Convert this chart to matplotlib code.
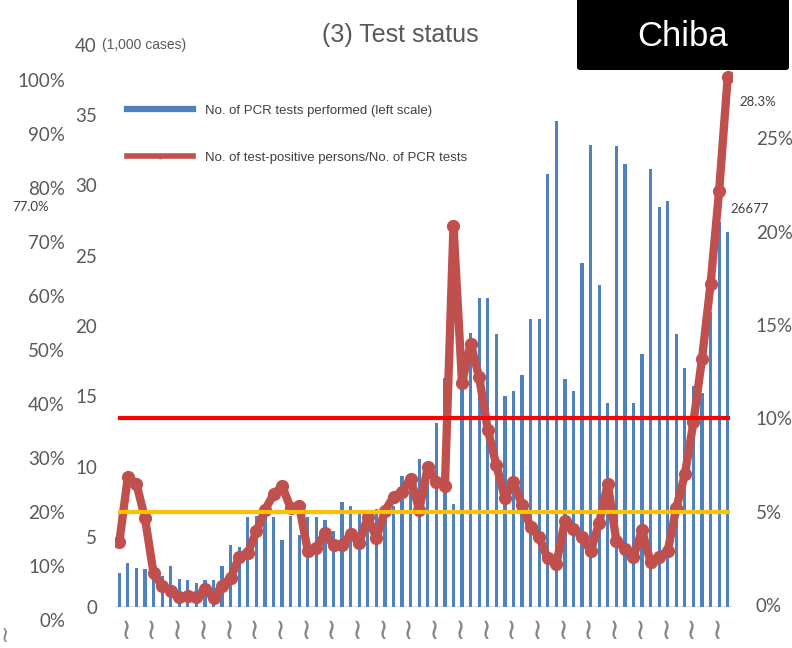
import numpy as np
import matplotlib
matplotlib.use('Agg')
import matplotlib.pyplot as plt
from matplotlib.lines import Line2D
from matplotlib.patches import FancyBboxPatch

# weekly PCR tests, in 1,000 cases (left scale)
tests = [2.4, 3.1, 2.8, 2.7, 2.2, 2.2, 2.9, 2.0, 1.9, 1.7, 1.9, 1.9,
         2.9, 4.4, 4.3, 6.4, 6.5, 6.8, 6.4, 4.75, 6.5, 5.1, 6.4, 6.4,
         6.2, 5.4, 7.5, 7.2, 6.6, 6.8, 7.0, 6.7, 7.2, 9.3, 9.0, 10.5,
         10.1, 13.1, 16.3, 7.3, 16.0, 19.5, 22.0, 22.0, 19.4, 15.0, 15.4, 16.5,
         20.5, 20.5, 30.8, 34.6, 16.2, 15.4, 24.5, 32.9, 22.9, 14.5, 32.8, 31.5,
         14.5, 18.0, 31.2, 28.5, 28.9, 19.4, 17.0, 15.7, 15.2, 21.0, 27.4, 26.677]

# positive persons / PCR tests, % (right scale)
positive_rate = [3.37, 6.87, 6.5, 4.65, 1.7, 1.05, 0.75, 0.43, 0.48, 0.43, 0.84, 0.39,
                 1.05, 1.45, 2.6, 2.8, 3.95, 5.1, 5.93, 6.38, 5.2, 5.3, 2.9, 3.05,
                 3.85, 3.2, 3.2, 3.8, 3.35, 4.7, 3.6, 5.05, 5.8, 6.07, 6.78, 5.1,
                 7.4, 6.6, 6.4, 20.3, 11.9, 14.0, 12.2, 9.4, 7.5, 5.75, 6.6, 5.35,
                 4.2, 3.64, 2.5, 2.2, 4.5, 4.1, 3.64, 2.9, 4.4, 6.5, 3.46, 3.0,
                 2.6, 4.0, 2.3, 2.6, 2.9, 5.2, 7.0, 9.8, 13.2, 17.2, 22.2, 28.3]

left_ticks = [0, 5, 10, 15, 20, 25, 30, 35, 40]
right_ticks = [0, 5, 10, 15, 20, 25]
old_ticks = [0, 10, 20, 30, 40, 50, 60, 70, 80, 90, 100]
red_level = 10
orange_level = 5

x = np.arange(len(tests))
gray = '#595959'
wave_color = '#8a8580'
tick_font = 'Lato'

fig = plt.figure(figsize=(7.92, 6.48), dpi=100)
ax1 = fig.add_axes([115/792, 41/648, 617/792, 562/648])
ax2 = ax1.twinx()

ax1.bar(x, tests, width=0.38, color='#4F81BD', zorder=2)
ax1.axhline(0, color='#d9d9d9', lw=2, zorder=1)
ax1.set_xlim(-0.5, len(tests) - 0.5)
ax1.set_ylim(0, 40)
ax1.set_yticks(left_ticks)
ax1.set_yticklabels([str(t) for t in left_ticks], fontsize=13.5, color=gray, family=tick_font)
ax1.tick_params(axis='y', length=0, pad=13)

# wavy date placeholders under the bars
wave_pos = np.arange(0, len(tests), 3) + 0.8
ax1.set_xticks(wave_pos)
ax1.set_xticklabels(['≀'] * len(wave_pos), fontsize=21, color=wave_color, family='DejaVu Sans')
ax1.tick_params(axis='x', length=0, pad=7)

ax2.plot(x, positive_rate, color='#C0504D', lw=6, marker='o', ms=8.5,
         solid_capstyle='round', solid_joinstyle='round', zorder=3)
ax2.hlines(red_level, -0.1, len(tests) - 0.7, color='#FF0000', lw=3, zorder=4)
ax2.hlines(orange_level, -0.1, len(tests) - 0.7, color='#FFC000', lw=3, zorder=4)
ax2.set_ylim(-0.1, 30)
ax2.set_yticks(right_ticks)
ax2.set_yticklabels([f'{t}%' for t in right_ticks], fontsize=13.5, color=gray, family=tick_font)
ax2.tick_params(axis='y', length=0, pad=17)

for a in (ax1, ax2):
    for s in a.spines.values():
        s.set_visible(False)
ax2.patch.set_visible(False)

# data labels
ax2.annotate('28.3%', (x[-1], positive_rate[-1]), xytext=(12, -25), textcoords='offset pixels',
             ha='left', va='center', fontsize=9.5, color='#404040', family=tick_font)
ax1.annotate('26677', (x[-1], tests[-1]), xytext=(3, 23), textcoords='offset pixels',
             ha='left', va='center', fontsize=9.5, color='#404040', family=tick_font)

# leftover percent scale at the far left
ax3 = fig.add_axes([65/792, 28/648, 0.001, 540/648])
ax3.set_ylim(0, 100)
ax3.set_yticks(old_ticks)
ax3.set_yticklabels([f'{t}%' for t in old_ticks], fontsize=13.5, color=gray, family=tick_font)
ax3.tick_params(axis='y', length=0, pad=0)
ax3.set_xticks([])
ax3.patch.set_visible(False)
for s in ax3.spines.values():
    s.set_visible(False)
fig.text(12/792, 1 - 207/648, '77.0%', fontsize=9.5, color='#404040', family=tick_font,
         ha='left', va='center')
fig.text(0.5/792, 1 - 636/648, '≀', fontsize=16, color=wave_color, ha='left', va='center')

# legend
handles = [Line2D([], [], color='#4F81BD', lw=4.5),
           Line2D([], [], color='#C0504D', lw=4, marker='o', ms=3)]
labels = ['No. of PCR tests performed (left scale)',
          'No. of test-positive persons/No. of PCR tests']
ax1.legend(handles, labels, loc='upper left', bbox_to_anchor=(0.019, 0.894), frameon=False,
           handlelength=5.0, handletextpad=0.9, labelspacing=2.65,
           borderpad=0, borderaxespad=0, labelcolor='#404040',
           prop={'family': 'Liberation Sans', 'size': 9.5})

# titles
fig.text(102/792, 1 - 45/648, '(1,000 cases)', fontsize=10, color=gray,
         family='Liberation Sans', ha='left', va='center')
fig.text(400/792, 1 - 35/648, '(3) Test status', fontsize=18, color=gray,
         family='Liberation Sans', ha='center', va='center')
box = FancyBboxPatch((577/792, 1 - 70/648), 212/792, 72/648, boxstyle='round,pad=0,rounding_size=0.004',
                     transform=fig.transFigure, facecolor='black', edgecolor='none')
fig.add_artist(box)
fig.text(683/792, 1 - 37/648, 'Chiba', fontsize=25, color='white',
         family='Liberation Sans', ha='center', va='center')

fig.savefig('out.png', dpi=100)
